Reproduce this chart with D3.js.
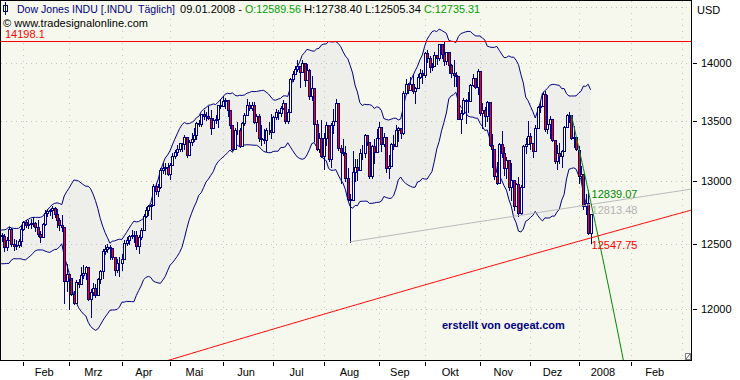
<!DOCTYPE html>
<html>
<head>
<meta charset="utf-8">
<script src="https://cdn.jsdelivr.net/npm/d3@7"></script>
<style>
  body { margin: 0; background: #ffffff; }
  svg text { font-family: "Liberation Sans", Arial, sans-serif; font-size: 11px; }
</style>
</head>
<body>
<svg id="chart" width="740" height="380"></svg>
<script>
// Dow Jones INDU, daily candles (Dec 2006 rows only feed the 20 day bands)
const dates = [
  "2006-12-14","2006-12-15","2006-12-18","2006-12-19","2006-12-20","2006-12-21","2006-12-22","2006-12-26","2006-12-27","2006-12-28","2006-12-29",
  "2007-01-03","2007-01-04","2007-01-05","2007-01-08","2007-01-09","2007-01-10","2007-01-11","2007-01-12","2007-01-16","2007-01-17","2007-01-18","2007-01-19","2007-01-22","2007-01-23","2007-01-24","2007-01-25","2007-01-26","2007-01-29","2007-01-30","2007-01-31",
  "2007-02-01","2007-02-02","2007-02-05","2007-02-06","2007-02-07","2007-02-08","2007-02-09","2007-02-12","2007-02-13","2007-02-14","2007-02-15","2007-02-16","2007-02-20","2007-02-21","2007-02-22","2007-02-23","2007-02-26","2007-02-27","2007-02-28",
  "2007-03-01","2007-03-02","2007-03-05","2007-03-06","2007-03-07","2007-03-08","2007-03-09","2007-03-12","2007-03-13","2007-03-14","2007-03-15","2007-03-16","2007-03-19","2007-03-20","2007-03-21","2007-03-22","2007-03-23","2007-03-26","2007-03-27","2007-03-28","2007-03-29","2007-03-30",
  "2007-04-02","2007-04-03","2007-04-04","2007-04-05","2007-04-09","2007-04-10","2007-04-11","2007-04-12","2007-04-13","2007-04-16","2007-04-17","2007-04-18","2007-04-19","2007-04-20","2007-04-23","2007-04-24","2007-04-25","2007-04-26","2007-04-27","2007-04-30",
  "2007-05-01","2007-05-02","2007-05-03","2007-05-04","2007-05-07","2007-05-08","2007-05-09","2007-05-10","2007-05-11","2007-05-14","2007-05-15","2007-05-16","2007-05-17","2007-05-18","2007-05-21","2007-05-22","2007-05-23","2007-05-24","2007-05-25","2007-05-29","2007-05-30","2007-05-31",
  "2007-06-01","2007-06-04","2007-06-05","2007-06-06","2007-06-07","2007-06-08","2007-06-11","2007-06-12","2007-06-13","2007-06-14","2007-06-15","2007-06-18","2007-06-19","2007-06-20","2007-06-21","2007-06-22","2007-06-25","2007-06-26","2007-06-27","2007-06-28","2007-06-29",
  "2007-07-02","2007-07-03","2007-07-05","2007-07-06","2007-07-09","2007-07-10","2007-07-11","2007-07-12","2007-07-13","2007-07-16","2007-07-17","2007-07-18","2007-07-19","2007-07-20","2007-07-23","2007-07-24","2007-07-25","2007-07-26","2007-07-27","2007-07-30","2007-07-31",
  "2007-08-01","2007-08-02","2007-08-03","2007-08-06","2007-08-07","2007-08-08","2007-08-09","2007-08-10","2007-08-13","2007-08-14","2007-08-15","2007-08-16","2007-08-17","2007-08-20","2007-08-21","2007-08-22","2007-08-23","2007-08-24","2007-08-27","2007-08-28","2007-08-29","2007-08-30","2007-08-31",
  "2007-09-04","2007-09-05","2007-09-06","2007-09-07","2007-09-10","2007-09-11","2007-09-12","2007-09-13","2007-09-14","2007-09-17","2007-09-18","2007-09-19","2007-09-20","2007-09-21","2007-09-24","2007-09-25","2007-09-26","2007-09-27","2007-09-28",
  "2007-10-01","2007-10-02","2007-10-03","2007-10-04","2007-10-05","2007-10-08","2007-10-09","2007-10-10","2007-10-11","2007-10-12","2007-10-15","2007-10-16","2007-10-17","2007-10-18","2007-10-19","2007-10-22","2007-10-23","2007-10-24","2007-10-25","2007-10-26","2007-10-29","2007-10-30","2007-10-31",
  "2007-11-01","2007-11-02","2007-11-05","2007-11-06","2007-11-07","2007-11-08","2007-11-09","2007-11-12","2007-11-13","2007-11-14","2007-11-15","2007-11-16","2007-11-19","2007-11-20","2007-11-21","2007-11-23","2007-11-26","2007-11-27","2007-11-28","2007-11-29","2007-11-30",
  "2007-12-03","2007-12-04","2007-12-05","2007-12-06","2007-12-07","2007-12-10","2007-12-11","2007-12-12","2007-12-13","2007-12-14","2007-12-17","2007-12-18","2007-12-19","2007-12-20","2007-12-21","2007-12-24","2007-12-26","2007-12-27","2007-12-28","2007-12-31",
  "2008-01-02","2008-01-03","2008-01-04","2008-01-07","2008-01-08","2008-01-09"
];

const open = [
  12317,12417,12446,12441,12471,12463,12421,12343,12407,12511,12502,
  12463,12475,12481,12398,12423,12417,12442,12515,12556,12583,12577,12568,12566,12477,12534,12622,12503,12487,12491,12523,
  12622,12674,12653,12662,12667,12666,12638,12581,12553,12655,12742,12765,12768,12787,12738,12686,12647,12632,12216,
  12269,12234,12114,12050,12208,12192,12261,12276,12319,12076,12133,12160,12110,12226,12288,12448,12461,12481,12469,12397,12300,12349,
  12354,12382,12510,12530,12560,12569,12574,12485,12553,12612,12720,12773,12804,12809,12962,12919,12954,13090,13106,13121,
  13063,13136,13212,13241,13265,13313,13309,13363,13215,13326,13347,13384,13488,13477,13557,13543,13540,13526,13441,13507,13521,13633,
  13628,13668,13676,13595,13466,13267,13424,13425,13295,13482,13554,13639,13613,13635,13489,13546,13360,13352,13338,13428,13422,
  13409,13535,13577,13566,13612,13650,13502,13578,13862,13907,13951,13972,13918,14000,13851,13943,13717,13785,13474,13265,13358,
  13212,13362,13463,13182,13469,13504,13658,13271,13240,13237,13029,12861,12846,13079,13121,13091,13236,13236,13379,13322,13042,13289,13239,
  13358,13449,13305,13363,13113,13128,13308,13292,13425,13443,13403,13739,13816,13767,13820,13759,13779,13878,13913,
  13896,14088,14047,13968,13974,14066,14044,14165,14079,14015,14093,13985,13913,13893,13889,13522,13567,13676,13675,13672,13807,13870,13792,
  13930,13568,13595,13543,13661,13300,13266,13043,12988,13307,13231,13110,13177,12958,13010,12799,12981,12743,12958,13289,13312,
  13372,13315,13249,13445,13620,13626,13727,13433,13474,13518,13340,13167,13232,13207,13246,13451,13549,13552,13360,13366,
  13262,13044,13057,12800,12827,12589.56
];

const high = [
  12437,12511,12485,12482,12510,12486,12432,12420,12528,12532,12522,
  12581,12510,12482,12470,12471,12461,12555,12561,12590,12620,12611,12586,12578,12559,12636,12628,12542,12530,12536,12643,
  12684,12690,12687,12695,12710,12673,12690,12599,12664,12771,12777,12775,12800,12790,12774,12704,12730,12633,12347,
  12269,12238,12140,12220,12232,12320,12340,12330,12319,12150,12200,12190,12240,12300,12460,12490,12500,12490,12470,12400,12380,12400,
  12420,12530,12555,12575,12610,12600,12600,12570,12630,12740,12790,12810,12820,12980,12990,12980,13110,13150,13150,13150,
  13150,13230,13260,13300,13320,13320,13380,13363,13340,13400,13440,13490,13510,13560,13590,13580,13630,13590,13530,13550,13640,13690,
  13710,13700,13676,13595,13466,13440,13490,13440,13490,13570,13690,13660,13660,13660,13560,13560,13470,13430,13440,13490,13560,
  13540,13600,13590,13630,13680,13650,13600,13870,13930,13970,14030,13972,14022,14000,13990,13950,13890,13785,13510,13400,13510,
  13400,13490,13470,13480,13600,13690,13658,13300,13350,13290,13110,12900,13250,13180,13180,13270,13300,13390,13379,13322,13300,13350,13430,
  13490,13449,13400,13363,13220,13320,13380,13470,13450,13443,13760,13860,13830,13880,13900,13790,13900,13950,13940,
  14100,14110,14060,14000,14100,14070,14170,14170,14198.1,14100,14100,13990,14030,13920,13890,13590,13700,13690,13750,13820,13900,13870,13950,
  13930,13650,13620,13670,13661,13390,13266,13160,13320,13420,13280,13200,13177,13150,13010,12990,13040,12970,13300,13360,13500,
  13400,13315,13470,13630,13660,13750,13760,13720,13540,13518,13340,13300,13320,13260,13460,13560,13580,13552,13460,13366,
  13290,13130,13057,12900,12930,12738.40
];

const low = [
  12317,12417,12400,12361,12451,12400,12330,12330,12407,12472,12450,
  12404,12403,12366,12376,12367,12343,12441,12485,12531,12548,12539,12524,12443,12455,12533,12488,12452,12459,12478,12487,
  12612,12631,12627,12630,12641,12605,12560,12520,12553,12654,12719,12727,12704,12714,12635,12614,12602,12050,12138,
  12000,12110,12040,12050,12170,12192,12240,12230,12070,11939,12110,12090,12110,12200,12240,12420,12440,12380,12380,12260,12280,12250,
  12300,12382,12490,12500,12545,12520,12460,12430,12540,12612,12710,12730,12700,12809,12900,12880,12950,13070,13060,13050,
  13020,13136,13190,13220,13250,13250,13270,13200,13215,13300,13330,13350,13460,13460,13520,13510,13520,13390,13441,13480,13450,13610,
  13628,13610,13540,13440,13260,13267,13390,13280,13295,13470,13554,13590,13590,13480,13420,13330,13300,13320,13250,13390,13360,
  13409,13520,13520,13540,13600,13480,13480,13578,13840,13900,13930,13790,13918,13800,13851,13690,13680,13330,13260,13240,13200,
  13100,13300,13170,13120,13400,13500,13260,12990,13220,13000,12850,12517.94,12846,13000,13010,13091,13180,13200,13300,13030,13030,13150,13239,
  13358,13250,13290,13080,13030,13128,13270,13292,13330,13360,13390,13730,13740,13767,13740,13650,13779,13870,13830,
  13880,14010,13920,13940,13974,13990,14030,14040,13980,13990,13910,13880,13800,13800,13520,13400,13560,13480,13580,13672,13800,13780,13730,
  13550,13440,13460,13500,13290,13120,13020,12980,12988,13200,13050,13030,12930,12850,12770,12799,12724.09,12740,12958,13230,13312,
  13270,13200,13249,13440,13580,13626,13420,13400,13360,13330,13150,13100,13150,13120,13246,13451,13490,13350,13280,13260,
  12990,13000,12780,12740,12580,12505.34
];

const close = [
  12417,12446,12441,12471,12463,12421,12343,12407,12511,12502,12463,
  12475,12481,12398,12423,12417,12442,12515,12556,12583,12577,12568,12566,12477,12534,12622,12503,12487,12491,12523,12622,
  12674,12653,12662,12667,12666,12638,12581,12553,12655,12742,12765,12768,12787,12738,12686,12647,12632,12216,12269,
  12234,12114,12050,12208,12192,12261,12276,12319,12076,12133,12160,12110,12226,12288,12448,12461,12481,12469,12397,12300,12349,12354,
  12382,12510,12530,12560,12569,12574,12485,12553,12612,12720,12773,12804,12809,12962,12919,12954,13090,13106,13121,13063,
  13136,13212,13241,13265,13313,13309,13363,13215,13326,13347,13384,13488,13477,13557,13543,13540,13526,13441,13507,13521,13633,13628,
  13668,13676,13595,13466,13267,13424,13425,13295,13482,13554,13639,13613,13635,13489,13546,13360,13352,13338,13428,13422,13409,
  13535,13577,13566,13612,13650,13502,13578,13862,13907,13951,13972,13918,14000,13851,13943,13717,13785,13474,13265,13358,13212,
  13362,13463,13182,13469,13504,13658,13271,13240,13237,13029,12861,12846,13079,13121,13091,13236,13236,13379,13322,13042,13289,13239,13358,
  13449,13305,13363,13113,13128,13308,13292,13425,13443,13403,13739,13816,13767,13820,13759,13779,13878,13913,13896,
  14088,14047,13968,13974,14066,14044,14165,14079,14015,14093,13985,13913,13893,13889,13522,13567,13676,13675,13672,13807,13870,13792,13930,
  13568,13595,13543,13661,13300,13266,13043,12988,13307,13231,13110,13177,12958,13010,12799,12981,12743,12958,13289,13312,13372,
  13315,13249,13445,13620,13626,13727,13433,13474,13518,13340,13167,13232,13207,13246,13451,13549,13552,13360,13366,13265,
  13044,13057,12800,12827,12589,12735.31
];

// axis / grid values
const priceTicks = [12000, 12500, 13000, 13500, 14000];
const priceGrid = [12000, 12500, 13000, 13500, 14000, 14500];
const monthStarts = ["2007-02","2007-03","2007-04","2007-05","2007-06","2007-07","2007-08","2007-09","2007-10","2007-11","2007-12","2008-01","2008-02","2008-03"];
const monthLabels = ["Feb","Mrz","Apr","Mai","Jun","Jul","Aug","Sep","Okt","Nov","Dez","2008","Feb",""];

// drawn lines: [date, price] anchors
const highLine = 14198.1;
const redTrend = [["2007-05-01", 11626], ["2008-01-09", 12547.75]];
const grayTrend = [["2007-08-16", 12517.94], ["2008-01-09", 12813.48]];
const greenTrend = [["2007-12-27", 13552], ["2008-01-09", 12839.07]];

const navy = "#000080";
const red = "#ff0000";
const svg = d3.select("#chart");
const W = 740, H = 380;
const plot = {left: 1, right: 691, top: 1, bottom: 360};

// trading days plus empty weekdays to the right edge
const allDays = dates.slice();
let day = new Date(dates[dates.length - 1] + "T00:00:00Z");
while (allDays.length < dates.length + 70) {
  day = new Date(day.getTime() + 864e5);
  const wd = day.getUTCDay();
  if (wd > 0 && wd < 6) allDays.push(day.toISOString().slice(0, 10));
}
const idx = s => allDays.indexOf(s);
const iFeb = idx("2007-02-01");
const last = dates.length - 1;

const x = d3.scaleLinear().domain([iFeb - 9.3, iFeb + 278.2]).range([1, 692]);
const y = d3.scaleLog().domain([12000, 14000]).range([309.3, 63]);
const px = v => Math.round(v) + 0.5;

// background
svg.append("rect").attr("width", W).attr("height", H).attr("fill", "#ffffff");
svg.append("rect")
  .attr("x", plot.left).attr("y", plot.top)
  .attr("width", plot.right - plot.left).attr("height", plot.bottom - plot.top)
  .attr("fill", "#f6f8ee");

svg.append("clipPath").attr("id", "clip")
  .append("rect")
  .attr("x", plot.left).attr("y", plot.top)
  .attr("width", plot.right - plot.left).attr("height", plot.bottom - plot.top);

const g = svg.append("g").attr("clip-path", "url(#clip)");

// Bollinger bands 20 / 2
const period = 20, mult = 2;
const bands = [];
for (let i = period - 1; i < close.length; i++) {
  const w = close.slice(i - period + 1, i + 1);
  const m = d3.mean(w);
  const sd = Math.sqrt(d3.mean(w, v => (v - m) * (v - m)));
  bands.push({i: i, up: m + mult * sd, lo: m - mult * sd});
}

g.append("path")
  .datum(bands)
  .attr("fill", "#eeeeea")
  .attr("d", d3.area().x(d => x(d.i)).y0(d => y(d.lo)).y1(d => y(d.up)));

// month indices
const monthIdx = monthStarts.map(m => allDays.findIndex(s => s.startsWith(m)));

// dotted grid
g.selectAll(".hgrid").data(priceGrid).enter().append("line")
  .attr("x1", plot.left).attr("x2", plot.right)
  .attr("y1", d => px(y(d))).attr("y2", d => px(y(d)))
  .attr("stroke", "#c4c4c4").attr("stroke-dasharray", "1,4");

g.selectAll(".vgrid").data(monthIdx).enter().append("line")
  .attr("x1", d => px(x(d))).attr("x2", d => px(x(d)))
  .attr("y1", plot.top).attr("y2", plot.bottom)
  .attr("stroke", "#c4c4c4").attr("stroke-dasharray", "1,5");

// band lines
["up", "lo"].forEach(k => {
  g.append("path")
    .datum(bands)
    .attr("fill", "none")
    .attr("stroke", navy)
    .attr("stroke-width", 1)
    .attr("d", d3.line().x(d => x(d.i)).y(d => y(d[k])));
});

// candles
const candles = d3.range(close.length).filter(i => x(i) > -3 && x(i) < plot.right + 3);
const cg = g.append("g");
candles.forEach(i => {
  const cx = Math.round(x(i));
  cg.append("line")
    .attr("x1", cx + 0.5).attr("x2", cx + 0.5)
    .attr("y1", Math.round(y(high[i]))).attr("y2", Math.round(y(low[i])) + 1)
    .attr("stroke", navy);
  const top = Math.round(y(Math.max(open[i], close[i])));
  const bot = Math.round(y(Math.min(open[i], close[i])));
  cg.append("rect")
    .attr("x", cx - 0.5).attr("y", top + 0.5)
    .attr("width", 2).attr("height", Math.max(bot - top, 0))
    .attr("fill", close[i] < open[i] ? red : "#ffffff")
    .attr("stroke", navy);
});

// trendlines
function lineValue(anchor, i) {
  const i1 = idx(anchor[0][0]), i2 = idx(anchor[1][0]);
  const p1 = anchor[0][1], p2 = anchor[1][1];
  return p1 + (p2 - p1) * (i - i1) / (i2 - i1);
}
const xEnd = Math.ceil(x.domain()[1]) + 1;
function drawTrend(anchor, from, color) {
  const pts = d3.range(from, xEnd + 1).map(i => [i, lineValue(anchor, i)]).filter(p => p[1] > 1000);
  g.append("path")
    .datum(pts)
    .attr("fill", "none")
    .attr("stroke", color)
    .attr("stroke-width", 1)
    .attr("d", d3.line().x(d => x(d[0])).y(d => y(d[1])));
}

// high of the period, drawn as a 1px filled strip
g.append("rect")
  .attr("x", plot.left).attr("width", plot.right - plot.left)
  .attr("y", Math.round(y(highLine))).attr("height", 1)
  .attr("fill", red);

drawTrend(redTrend, Math.floor(x.domain()[0]) - 1, red);
drawTrend(grayTrend, idx(grayTrend[0][0]), "#b8b8b8");
drawTrend(greenTrend, idx(greenTrend[0][0]), "#008800");

// values at the last bar
const lx = x(last) + 1;
const vGreen = lineValue(greenTrend, last);
const vGray = lineValue(grayTrend, last);
const vRed = lineValue(redTrend, last);
svg.append("text").attr("x", lx).attr("y", y(vGreen) - 3).attr("fill", "#008800").text(vGreen.toFixed(2));
svg.append("text").attr("x", lx).attr("y", y(vGray) + 10).attr("fill", "#b4b4b4").text(vGray.toFixed(2));
svg.append("text").attr("x", lx).attr("y", y(vRed) + 11).attr("fill", red).text(vRed.toFixed(2));

// header boxes and texts
svg.append("rect").attr("x", 1).attr("y", 1).attr("width", 482).attr("height", 15).attr("fill", "#f6f8ee");
svg.append("rect").attr("x", 1).attr("y", 16).attr("width", 150).attr("height", 13).attr("fill", "#f6f8ee");

// small candle icon
svg.append("line").attr("x1", 5.5).attr("x2", 5.5).attr("y1", 2).attr("y2", 15).attr("stroke", navy);
svg.append("rect").attr("x", 3.5).attr("y", 5.5).attr("width", 4).attr("height", 6).attr("fill", "none").attr("stroke", navy);

const hdr = [
  {t: "Dow Jones INDU [.INDU  Täglich]", x: 17, c: navy, w: 158},
  {t: "09.01.2008 -", x: 180, c: "#000000", w: 62},
  {t: "O:" + open[last].toFixed(2), x: 245, c: "#00a000", w: 56},
  {t: "H:" + high[last].toFixed(2), x: 304, c: "#000000", w: 58},
  {t: "L:" + low[last].toFixed(2), x: 365, c: "#000000", w: 56},
  {t: "C:" + close[last].toFixed(2), x: 424, c: "#00a000", w: 56}
];
svg.selectAll(".hdr").data(hdr).enter().append("text")
  .attr("x", d => d.x).attr("y", 13)
  .attr("fill", d => d.c)
  .attr("textLength", d => d.w).attr("lengthAdjust", "spacingAndGlyphs")
  .style("white-space", "pre")
  .text(d => d.t);

svg.append("text").attr("x", 3).attr("y", 27).attr("fill", "#000000")
  .attr("textLength", 145).attr("lengthAdjust", "spacingAndGlyphs")
  .text("© www.tradesignalonline.com");
svg.append("text").attr("x", 5).attr("y", y(highLine) - 3).attr("fill", red).text(highLine.toFixed(1));

svg.append("text").attr("x", 442).attr("y", 329).attr("fill", navy)
  .style("font-weight", "bold").text("erstellt von oegeat.com");

// frame
svg.append("rect")
  .attr("x", 0.5).attr("y", 0.5)
  .attr("width", plot.right).attr("height", plot.bottom)
  .attr("fill", "none").attr("stroke", "#000000");

// resize grip
svg.append("rect").attr("x", 685.5).attr("y", 353.5).attr("width", 5).attr("height", 6)
  .attr("fill", "#ffffff").attr("stroke", "#808080");
svg.append("line").attr("x1", 686).attr("y1", 359).attr("x2", 690).attr("y2", 354).attr("stroke", "#606060");

// right price axis
svg.selectAll(".ytick").data(priceTicks).enter().append("line")
  .attr("x1", 693).attr("x2", 697)
  .attr("y1", d => px(y(d))).attr("y2", d => px(y(d)))
  .attr("stroke", "#000000");
svg.selectAll(".ylab").data(priceTicks).enter().append("text")
  .attr("x", 701).attr("y", d => y(d) + 4)
  .attr("fill", "#000000").text(d => d);
svg.append("text").attr("x", 697).attr("y", 14).attr("fill", "#000000").text("USD");

// month axis
const shownMonths = monthIdx.slice(0, monthIdx.length - 1);
svg.selectAll(".xtick").data(shownMonths).enter().append("line")
  .attr("x1", d => px(x(d))).attr("x2", d => px(x(d)))
  .attr("y1", 362).attr("y2", 366)
  .attr("stroke", "#000000");
svg.selectAll(".xlab").data(shownMonths).enter().append("text")
  .attr("x", (d, k) => (x(d) + x(monthIdx[k + 1])) / 2 - 2)
  .attr("y", 376)
  .attr("text-anchor", "middle")
  .attr("fill", "#000000")
  .text((d, k) => monthLabels[k]);
</script>
</body>
</html>
